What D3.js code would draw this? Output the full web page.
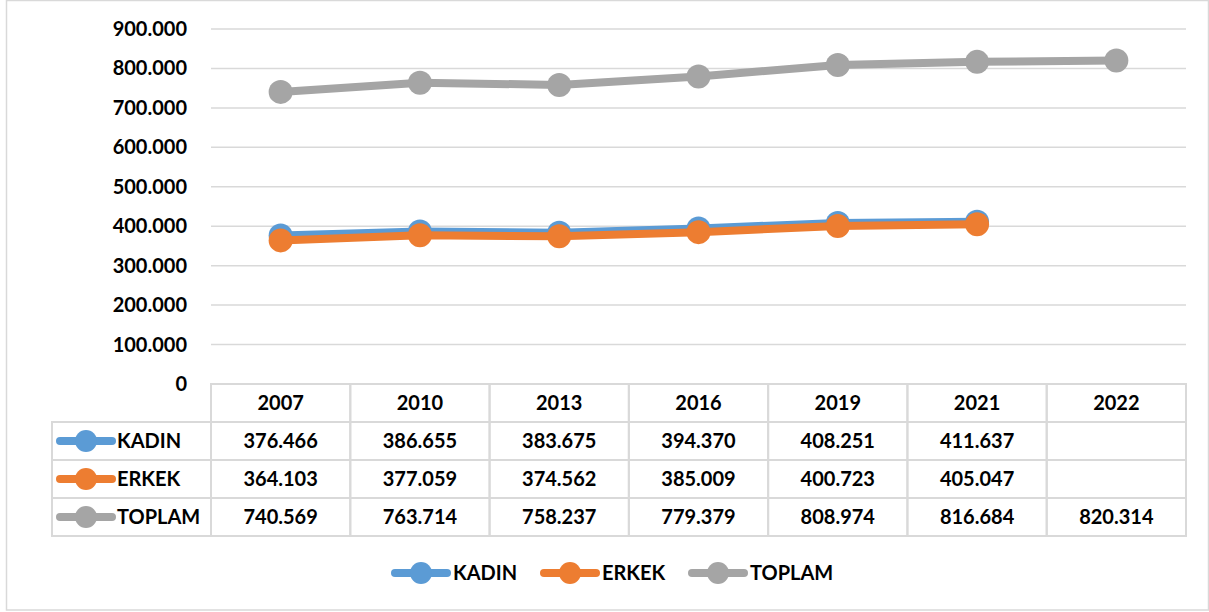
<!DOCTYPE html>
<html>
<head>
<meta charset="utf-8">
<script src="https://cdn.jsdelivr.net/npm/d3@7"></script>
<style>
  body { margin: 0; background: #fff; }
  svg text { font-family: Lato, "Open Sans", sans-serif; font-weight: bold; fill: #000; font-size: 20px; }
</style>
</head>
<body>
<svg id="canvas" width="1209" height="612"></svg>
<script>
let years = ["2007", "2010", "2013", "2016", "2019", "2021", "2022"]
let kadin = [376466, 386655, 383675, 394370, 408251, 411637, null]
let erkek = [364103, 377059, 374562, 385009, 400723, 405047, null]
let toplam = [740569, 763714, 758237, 779379, 808974, 816684, 820314]
let seriesNames = ["KADIN", "ERKEK", "TOPLAM"]
let colors = ["#5B9BD5", "#ED7D31", "#A5A5A5"]
let yTicks = [0, 100000, 200000, 300000, 400000, 500000, 600000, 700000, 800000, 900000]

let series = [kadin, erkek, toplam].map((vals, i) => ({ name: seriesNames[i], color: colors[i], values: vals }))

let svg = d3.select('#canvas')
let fmt = (v) => v === null ? "" : d3.format(".3f")(v / 1000)
let tickFmt = (v) => v === 0 ? "0" : d3.format(".3f")(v / 1000)

// outer frame
svg.append('rect')
   .attr('x', 6.5).attr('y', 0.5).attr('width', 1202).attr('height', 609.5)
   .attr('fill', 'none').attr('stroke', '#D9D9D9').attr('stroke-width', 1.5)

let plotLeft = 211, plotRight = 1186, plotTop = 29, plotBottom = 384
let x = d3.scaleBand().domain(years).range([plotLeft, plotRight])
let y = d3.scaleLinear().domain([0, 900000]).range([plotBottom, plotTop])

// gridlines
svg.append('g').selectAll('line')
   .data(yTicks.filter(d => d > 0))
   .enter().append('line')
   .attr('x1', plotLeft).attr('x2', plotRight)
   .attr('y1', d => y(d)).attr('y2', d => y(d))
   .attr('stroke', '#D9D9D9').attr('stroke-width', 1.5)

// y labels
svg.append('g').selectAll('text')
   .data(yTicks)
   .enter().append('text')
   .attr('x', 187).attr('y', d => y(d))
   .attr('dy', '0.35em')
   .attr('text-anchor', 'end')
   .text(tickFmt)

// lines + markers (toplam first, then kadin, erkek on top)
let line = d3.line()
   .x(d => x(d.year) + x.bandwidth() / 2)
   .y(d => y(d.v))

let drawOrder = [2, 0, 1]
drawOrder.forEach(i => {
  let s = series[i]
  let pts = s.values.map((v, j) => ({ year: years[j], v: v })).filter(d => d.v !== null)
  let g = svg.append('g')
  g.append('path')
   .datum(pts)
   .attr('d', line)
   .attr('fill', 'none')
   .attr('stroke', s.color)
   .attr('stroke-width', 8)
   .attr('stroke-linejoin', 'round')
  g.selectAll('circle')
   .data(pts)
   .enter().append('circle')
   .attr('cx', d => x(d.year) + x.bandwidth() / 2)
   .attr('cy', d => y(d.v))
   .attr('r', 12)
   .attr('fill', s.color)
})

// data table
let rowH = 38
let tableLeft = 52
let tg = svg.append('g')
let border = '#D9D9D9'

years.forEach(yr => {
  tg.append('rect')
    .attr('x', x(yr)).attr('y', plotBottom)
    .attr('width', x.bandwidth()).attr('height', rowH)
    .attr('fill', 'none').attr('stroke', border).attr('stroke-width', 2)
  tg.append('text')
    .attr('x', x(yr) + x.bandwidth() / 2).attr('y', plotBottom + rowH / 2)
    .attr('dy', '0.35em').attr('text-anchor', 'middle')
    .text(yr)
})

let legendKey = (g, cx, cy, color) => {
  g.append('line')
    .attr('x1', cx - 26).attr('x2', cx + 26)
    .attr('y1', cy).attr('y2', cy)
    .attr('stroke', color).attr('stroke-width', 8).attr('stroke-linecap', 'round')
  g.append('circle').attr('cx', cx).attr('cy', cy).attr('r', 11).attr('fill', color)
}

series.forEach((s, i) => {
  let ry = plotBottom + rowH * (i + 1)
  tg.append('rect')
    .attr('x', tableLeft).attr('y', ry)
    .attr('width', plotLeft - tableLeft).attr('height', rowH)
    .attr('fill', 'none').attr('stroke', border).attr('stroke-width', 2)
  legendKey(tg, 86, ry + rowH / 2, s.color)
  tg.append('text')
    .attr('x', 117).attr('y', ry + rowH / 2)
    .attr('dy', '0.35em')
    .text(s.name)
  years.forEach((yr, j) => {
    tg.append('rect')
      .attr('x', x(yr)).attr('y', ry)
      .attr('width', x.bandwidth()).attr('height', rowH)
      .attr('fill', 'none').attr('stroke', border).attr('stroke-width', 2)
    tg.append('text')
      .attr('x', x(yr) + x.bandwidth() / 2).attr('y', ry + rowH / 2)
      .attr('dy', '0.35em').attr('text-anchor', 'middle')
      .text(fmt(s.values[j]))
  })
})

// bottom legend
let legendX = [421, 570, 718]
let lg = svg.append('g')
series.forEach((s, i) => {
  legendKey(lg, legendX[i], 573, s.color)
  lg.append('text')
    .attr('x', legendX[i] + 32).attr('y', 573)
    .attr('dy', '0.35em')
    .text(s.name)
})
</script>
</body>
</html>
